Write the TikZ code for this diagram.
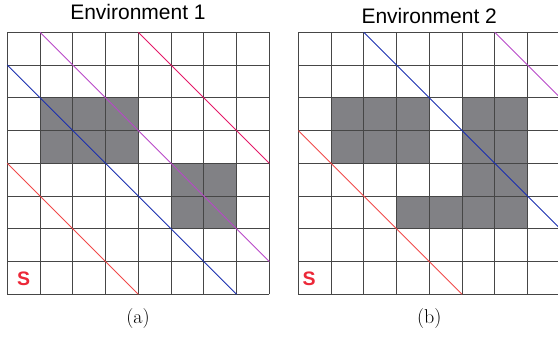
\documentclass[tikz,border=0pt]{standalone}
\usepackage{fontspec}
\setsansfont{Liberation Sans}

\definecolor{obstacleGray}{RGB}{129,129,133}
\definecolor{gridDark}{RGB}{70,70,70}
\definecolor{routeViolet}{RGB}{184,72,200}
\definecolor{routeCrimson}{RGB}{228,24,104}
\definecolor{routeBlue}{RGB}{26,47,176}
\definecolor{routeRed}{RGB}{240,74,74}
\definecolor{startRed}{RGB}{236,40,56}

\begin{document}
\begin{tikzpicture}[
    cell/.style={x=32.75pt,y=32.75pt},
    gridline/.style={draw=gridDark,line width=1pt},
    obstacle/.style={fill=obstacleGray},
    route/.style={line width=0.9pt},
    envtitle/.style={font=\sffamily\fontsize{21}{25}\selectfont,anchor=base,inner sep=0pt},
    startmark/.style={text=startRed,font=\sffamily\bfseries\fontsize{19.5}{22}\selectfont,inner sep=0pt},
    subcaption/.style={font=\fontsize{20}{24}\selectfont,anchor=base,inner sep=0pt}
]

\useasboundingbox (0,0) rectangle (558pt,337pt);
\clip (0,0) rectangle (558pt,337pt);

% Environment 1
\node[envtitle] (titleA) at (138pt,317pt) {Environment 1};
\begin{scope}[shift={(7.3pt,42.7pt)},cell]
\fill[obstacle] (1,4) rectangle (4,6);
\fill[obstacle] (5,2) rectangle (7,4);

\draw[gridline,step={(1,1)}] (0,0) grid (8,8);

\draw[route,routeViolet] (1,8) -- (8,1);
\draw[route,routeCrimson] (4,8) -- (8,4);
\draw[route,routeBlue] (0,7) -- (7,0);
\draw[route,routeRed] (0,4) -- (4,0);

\node[startmark] (startA) at (0.5,0.47) {S};
\end{scope}
\node[subcaption] (capA) at (138pt,13.7pt) {(a)};

% Environment 2
\node[envtitle] (titleB) at (429.2pt,313.7pt) {Environment 2};
\begin{scope}[shift={(298.3pt,42.7pt)},cell]
\fill[obstacle] (1,4) rectangle (4,6);
\fill[obstacle] (5,2) rectangle (7,6);
\fill[obstacle] (3,2) rectangle (5,3);

\draw[gridline,step={(1,1)}] (0,0) grid (8,8);

\draw[route,routeBlue] (2,8) -- (8,2);
\draw[route,routeViolet] (6,8) -- (8,6);
\draw[route,routeRed] (0,5) -- (5,0);

\node[startmark] (startB) at (0.33,0.47) {S};
\end{scope}
\node[subcaption] (capB) at (429.2pt,13.7pt) {(b)};

\end{tikzpicture}
\end{document}
